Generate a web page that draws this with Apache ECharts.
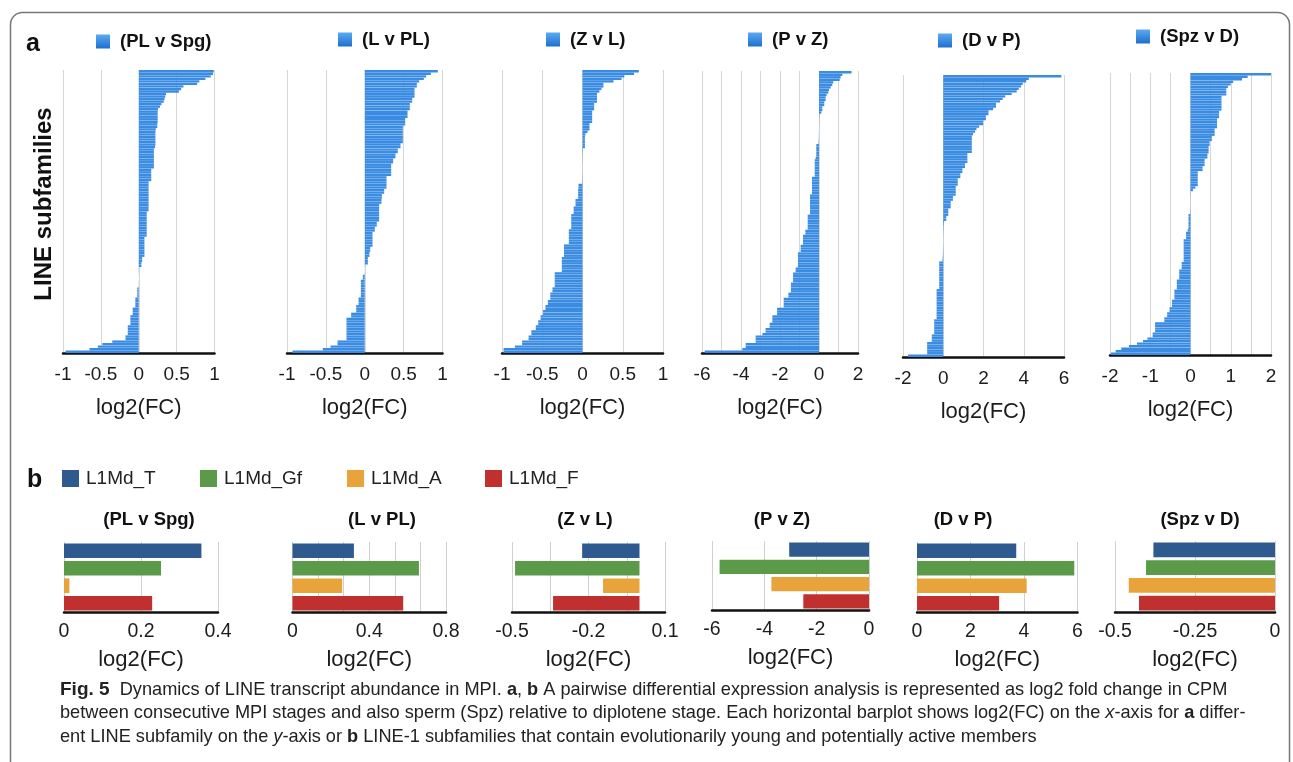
<!DOCTYPE html>
<html>
<head>
<meta charset="utf-8">
<title>Fig. 5 LINE transcript abundance</title>
<script src="https://cdn.jsdelivr.net/npm/echarts@6/dist/echarts.min.js"></script>
<style>
html, body { margin: 0; padding: 0; background: #fff; }
#main { width: 1293px; height: 762px; }
</style>
</head>
<body>
<div id="main"></div>
<script>
// stage comparisons
var comparisons = ['(PL v Spg)', '(L v PL)', '(Z v L)', '(P v Z)', '(D v P)', '(Spz v D)'];

// a: log2(FC) of each LINE subfamily, sorted from high to low
var plSpg = [
	0.99, 0.98, 0.95, 0.88, 0.80, 0.77, 0.59, 0.56, 0.53,
	0.36, 0.35, 0.34, 0.33, 0.30, 0.28,
	0.255, 0.25, 0.25, 0.25, 0.25, 0.25, 0.245, 0.245,
	0.225, 0.22, 0.22, 0.22, 0.22, 0.22, 0.22, 0.215,
	0.20, 0.20, 0.20, 0.20, 0.20, 0.20, 0.20, 0.20,
	0.165, 0.165, 0.165, 0.165, 0.165,
	0.13, 0.13, 0.13, 0.13, 0.13, 0.13, 0.13, 0.13, 0.13, 0.13, 0.13, 0.13,
	0.105, 0.105, 0.105, 0.105, 0.105, 0.105, 0.105, 0.105, 0.105, 0.105,
	0.075, 0.075, 0.075, 0.075, 0.075, 0.075, 0.075, 0.075,
	0.045, 0.045, 0.035, 0.035,
	0.004, 0.003, 0.002, 0.001, 0, -0.001, -0.002, -0.003,
	-0.02, -0.02, -0.02, -0.02,
	-0.045, -0.045, -0.045, -0.045,
	-0.08, -0.08, -0.08,
	-0.11, -0.11, -0.11, -0.11,
	-0.145, -0.145, -0.145, -0.145,
	-0.175, -0.175,
	-0.35, -0.48, -0.54, -0.65, -0.965
];
var lvPl = [
	0.94, 0.85, 0.79, 0.76, 0.70, 0.67, 0.67,
	0.64, 0.64, 0.64, 0.64, 0.61, 0.61,
	0.58, 0.58, 0.58, 0.55, 0.55, 0.55, 0.52, 0.52, 0.52,
	0.49, 0.49, 0.49, 0.49, 0.49, 0.49, 0.49,
	0.46, 0.46, 0.425, 0.425, 0.395, 0.395, 0.365, 0.365,
	0.34, 0.34, 0.34, 0.34, 0.34,
	0.28, 0.28, 0.28, 0.28, 0.28,
	0.25, 0.25, 0.22, 0.22, 0.215, 0.215,
	0.185, 0.185, 0.185, 0.185, 0.185, 0.185, 0.185,
	0.155, 0.155, 0.13, 0.13,
	0.10, 0.10, 0.10, 0.10, 0.10, 0.10,
	0.07, 0.07, 0.06, 0.06, 0.04, 0.04, 0.04,
	0.003, 0.001, -0.001, -0.003,
	-0.025, -0.025,
	-0.05, -0.05, -0.05, -0.05, -0.05, -0.05, -0.05,
	-0.08, -0.08, -0.08, -0.11, -0.11, -0.11,
	-0.175, -0.175,
	-0.235, -0.235, -0.235, -0.235, -0.235, -0.235, -0.235, -0.235, -0.235,
	-0.35, -0.35, -0.44, -0.54, -0.93
];
var zvL = [
	0.70, 0.64, 0.52, 0.485, 0.385, 0.26, 0.26, 0.235, 0.21,
	0.18, 0.18, 0.18, 0.18, 0.145, 0.145, 0.145,
	0.12, 0.12, 0.12, 0.12, 0.12,
	0.087, 0.087, 0.087, 0.062, 0.037,
	0.03, 0.03, 0.03, 0.03, 0.03,
	0.006, 0.005, 0.004, 0.003, 0.002, 0.002, 0.001, 0, -0.001, -0.002, -0.002, -0.003, -0.004, -0.005,
	-0.05, -0.05, -0.054, -0.054, -0.054, -0.054,
	-0.087, -0.087, -0.087, -0.11, -0.11, -0.11,
	-0.14, -0.14, -0.14, -0.14, -0.14, -0.14,
	-0.17, -0.17, -0.17, -0.17, -0.17, -0.17,
	-0.23, -0.23, -0.23, -0.23, -0.23,
	-0.257, -0.257, -0.257, -0.257, -0.257, -0.257,
	-0.345, -0.345, -0.345, -0.345, -0.345, -0.345,
	-0.373, -0.373, -0.40, -0.40, -0.40,
	-0.43, -0.43, -0.46, -0.46, -0.49, -0.49, -0.52, -0.52,
	-0.55, -0.55, -0.58, -0.58, -0.635, -0.635, -0.67, -0.67,
	-0.75, -0.75, -0.84, -0.98, -0.98
];
var pvZ = [
	1.67, 1.20, 1.11, 1.06, 0.73, 0.68, 0.60, 0.51, 0.48, 0.39,
	0.34, 0.34, 0.27, 0.27, 0.17, 0.17, 0.12,
	0.02, 0.015, 0.01, 0.008, 0.005, 0.002, -0.002, -0.005, -0.008, -0.01, -0.015, -0.02,
	-0.14, -0.14, -0.14, -0.14, -0.14, -0.17,
	-0.22, -0.22, -0.22, -0.22, -0.22, -0.22, -0.22,
	-0.36, -0.36, -0.36, -0.36, -0.36, -0.36, -0.36,
	-0.46, -0.46, -0.46, -0.46, -0.46, -0.46, -0.46, -0.46,
	-0.58, -0.58, -0.58, -0.58, -0.58, -0.58,
	-0.70, -0.70, -0.82, -0.82, -0.82, -0.82,
	-0.94, -0.94, -0.94,
	-1.08, -1.08, -1.08, -1.08, -1.08, -1.08,
	-1.2, -1.2, -1.33, -1.33, -1.33, -1.33,
	-1.44, -1.44, -1.44, -1.44, -1.57, -1.57,
	-1.81, -1.81, -1.81, -1.81,
	-2.15, -2.15, -2.15, -2.39, -2.39, -2.39,
	-2.53, -2.53, -2.74, -2.74, -2.9,
	-3.25, -3.25, -3.25, -3.76, -3.76, -3.93, -5.86
];
var dvP = [
	5.87, 4.25, 4.12, 3.95, 3.87, 3.75, 3.65, 3.40, 3.08, 2.95, 2.82,
	2.62, 2.62, 2.48, 2.25, 2.25, 2.12, 2.12, 1.98, 1.98,
	1.78, 1.65, 1.58, 1.48,
	1.42, 1.42, 1.42, 1.42, 1.42, 1.42, 1.42,
	1.20, 1.20, 1.20, 1.20, 1.08, 1.08, 0.95, 0.95, 0.85, 0.85,
	0.72, 0.72, 0.72, 0.62, 0.62, 0.62, 0.62,
	0.48, 0.48, 0.37, 0.37, 0.37, 0.25, 0.25, 0.25, 0.15, 0.15,
	0.04, 0.03, 0.02, 0.015, 0.01, 0.008, 0.005, 0.003,
	-0.003, -0.005, -0.008, -0.01, -0.015, -0.02, -0.03, -0.04,
	-0.2, -0.2, -0.2, -0.2, -0.2, -0.2, -0.2, -0.2, -0.2, -0.2, -0.2,
	-0.33, -0.33, -0.33, -0.33, -0.33, -0.33, -0.33, -0.33, -0.33, -0.33, -0.33, -0.33,
	-0.45, -0.45, -0.45, -0.45, -0.45, -0.45,
	-0.57, -0.57, -0.57,
	-0.80, -0.80, -0.80, -0.80, -0.80, -1.75
];
var spzD = [
	2.0, 1.42, 1.28, 1.06, 1.00, 0.93, 0.89, 0.89, 0.89,
	0.77, 0.77, 0.77, 0.77, 0.77, 0.77,
	0.71, 0.71, 0.71, 0.66, 0.66, 0.66, 0.66,
	0.60, 0.60, 0.60, 0.53, 0.53, 0.475, 0.475,
	0.45, 0.45, 0.45, 0.42, 0.42, 0.35, 0.35, 0.35, 0.30, 0.30,
	0.18, 0.18, 0.18, 0.18, 0.18, 0.18, 0.12, 0.06,
	0.008, 0.005, 0.003, 0.001, 0, -0.001, -0.003, -0.005, -0.008,
	-0.05, -0.05, -0.05, -0.05, -0.05, -0.05, -0.07,
	-0.11, -0.11, -0.11,
	-0.17, -0.17, -0.17, -0.17, -0.17, -0.17, -0.17, -0.17, -0.17,
	-0.22, -0.22, -0.22, -0.28, -0.28, -0.28, -0.28,
	-0.34, -0.34, -0.34, -0.34, -0.40, -0.40, -0.40, -0.40,
	-0.46, -0.46, -0.46, -0.52, -0.52, -0.58, -0.58, -0.65, -0.65,
	-0.88, -0.88, -0.88, -0.88, -0.94, -0.94,
	-1.07, -1.18, -1.33, -1.53, -1.72, -1.86, -1.98
];
var panelA = [plSpg, lvPl, zvL, pvZ, dvP, spzD];

// a: axis ranges and labelled ticks
var aMin = [-1, -1, -1, -6, -2, -2];
var aMax = [1, 1, 1, 2, 6, 2];
var aStep = [0.5, 0.5, 0.5, 1, 2, 0.5];
var aTicks = [
	[-1, -0.5, 0, 0.5, 1],
	[-1, -0.5, 0, 0.5, 1],
	[-1, -0.5, 0, 0.5, 1],
	[-6, -4, -2, 0, 2],
	[-2, 0, 2, 4, 6],
	[-2, -1, 0, 1, 2]
];

// b: young LINE-1 subfamilies, one value per comparison
var subfamilies = ['L1Md_T', 'L1Md_Gf', 'L1Md_A', 'L1Md_F'];
var l1mdT = [0.357, 0.32, -0.225, -3.05, 3.71, -0.38];
var l1mdGf = [0.252, 0.659, -0.488, -5.71, 5.88, -0.403];
var l1mdA = [0.014, 0.259, -0.143, -3.73, 4.10, -0.457];
var l1mdF = [0.229, 0.577, -0.339, -2.51, 3.07, -0.425];
var panelB = [l1mdT, l1mdGf, l1mdA, l1mdF];

// b: axis ranges and labelled ticks
var bMin = [0, 0, -0.5, -6, 0, -0.5];
var bMax = [0.4, 0.8, 0.1, 0, 6, 0];
var bStep = [0.2, 0.4 / 3, 0.15, 2, 2, 0.25];
var bTicks = [
	[0, 0.2, 0.4],
	[0, 0.4, 0.8],
	[-0.5, -0.2, 0.1],
	[-6, -4, -2, 0],
	[0, 2, 4, 6],
	[-0.5, -0.25, 0]
];

// layout
var FONT = '"Liberation Sans", Arial, Helvetica, sans-serif';
var BLUE = '#3a8ce2';
var B_COLORS = ['#2e5a8f', '#5b9a48', '#e8a33b', '#c0302f'];

var gridA = [
	{ left: 63, top: 70, width: 151.5, height: 283 },
	{ left: 287, top: 70, width: 155.5, height: 283 },
	{ left: 502, top: 70, width: 161, height: 283 },
	{ left: 702, top: 71, width: 156, height: 282 },
	{ left: 903, top: 75, width: 161, height: 282 },
	{ left: 1110, top: 73, width: 161, height: 282 }
];
var legendA = [[96, 32], [338, 30], [546, 30], [748, 30], [938, 31], [1136, 27]];

var gridB = [
	{ left: 64, top: 542, width: 154, height: 70 },
	{ left: 292.5, top: 542, width: 153.5, height: 70 },
	{ left: 512, top: 542, width: 153, height: 70 },
	{ left: 712, top: 541, width: 157, height: 69 },
	{ left: 917, top: 542, width: 160.5, height: 70 },
	{ left: 1115, top: 541, width: 160, height: 71 }
];
var titleBx = [149, 382, 585, 782, 963, 1200];
var legendBx = [62, 200, 347, 485];

function tickFormatter(ticks) {
	return function (v) {
		for (var k = 0; k < ticks.length; k++) {
			if (Math.abs(ticks[k] - v) < 1e-6) {
				return String(ticks[k]);
			}
		}
		return '';
	};
}

var legendIcon = new echarts.graphic.LinearGradient(0, 0, 0, 1, [
	{ offset: 0, color: '#5aaaf2' },
	{ offset: 1, color: '#1f6fcc' }
]);

var grids = [];
var xAxes = [];
var yAxes = [];
var series = [];
var legends = [];

// panel a
panelA.forEach(function (vals, i) {
	grids.push(gridA[i]);
	xAxes.push({
		type: 'value', gridIndex: i,
		min: aMin[i], max: aMax[i], interval: aStep[i],
		axisLine: { show: true, lineStyle: { color: '#111', width: 2.5 } },
		axisTick: { show: false },
		splitLine: { show: true, lineStyle: { color: '#d6d6d6', width: 1 } },
		axisLabel: { margin: 12, fontSize: 19, color: '#1c1c1c', fontFamily: FONT, formatter: tickFormatter(aTicks[i]) },
		name: 'log2(FC)', nameLocation: 'middle', nameGap: 44,
		nameTextStyle: { fontSize: 22, color: '#1c1c1c', fontFamily: FONT }
	});
	yAxes.push({ type: 'category', gridIndex: i, inverse: true, show: false });
	series.push({
		type: 'bar', name: comparisons[i], xAxisIndex: i, yAxisIndex: i,
		data: vals, barCategoryGap: '6%',
		itemStyle: { color: BLUE }
	});
	legends.push({
		left: legendA[i][0], top: legendA[i][1], padding: 0,
		icon: 'rect', itemWidth: 14, itemHeight: 14, selectedMode: false,
		data: [{ name: comparisons[i], itemStyle: { color: legendIcon } }],
		textStyle: { fontSize: 18.5, fontWeight: 'bold', color: '#111', fontFamily: FONT, padding: [0, 0, 0, 5] }
	});
});

// panel b
for (var p = 0; p < 6; p++) {
	var gi = 6 + p;
	grids.push(gridB[p]);
	xAxes.push({
		type: 'value', gridIndex: gi,
		min: bMin[p], max: bMax[p], interval: bStep[p],
		axisLine: { show: true, lineStyle: { color: '#111', width: 2.5 } },
		axisTick: { show: false },
		splitLine: { show: true, lineStyle: { color: '#d0d0d0', width: 1 } },
		axisLabel: { margin: 10, fontSize: 19.5, color: '#1c1c1c', fontFamily: FONT, formatter: tickFormatter(bTicks[p]) },
		name: 'log2(FC)', nameLocation: 'middle', nameGap: 37,
		nameTextStyle: { fontSize: 22, color: '#1c1c1c', fontFamily: FONT }
	});
	yAxes.push({ type: 'category', gridIndex: gi, inverse: true, show: false, data: subfamilies });
	subfamilies.forEach(function (name, s) {
		series.push({
			type: 'bar', name: name, xAxisIndex: gi, yAxisIndex: gi,
			stack: 'b' + p, barCategoryGap: '16%',
			data: subfamilies.map(function (c, k) { return k === s ? panelB[s][p] : '-'; }),
			itemStyle: { color: B_COLORS[s] }
		});
	});
}
subfamilies.forEach(function (name, s) {
	legends.push({
		left: legendBx[s], top: 469, padding: 0,
		icon: 'rect', itemWidth: 17, itemHeight: 17, selectedMode: false,
		data: [name],
		textStyle: { fontSize: 19, color: '#222', fontFamily: FONT, padding: [0, 0, 0, 2] }
	});
});

var graphics = [
	{
		type: 'rect', silent: true,
		shape: { x: 10.5, y: 12.5, width: 1279, height: 820, r: 12 },
		style: { fill: 'none', stroke: '#777', lineWidth: 1.5 }
	},
	{ type: 'text', x: 26, y: 44, style: { text: 'a', fontSize: 25, fontWeight: 'bold', fontFamily: FONT, fill: '#111', verticalAlign: 'middle' } },
	{ type: 'text', x: 27, y: 480, style: { text: 'b', fontSize: 25, fontWeight: 'bold', fontFamily: FONT, fill: '#111', verticalAlign: 'middle' } },
	{
		type: 'text', x: 44, y: 204, rotation: Math.PI / 2,
		style: { text: 'LINE subfamilies', fontSize: 24, fontWeight: 'bold', fontFamily: FONT, fill: '#111', align: 'center', verticalAlign: 'middle' }
	}
];
comparisons.forEach(function (c, p) {
	graphics.push({
		type: 'text', x: titleBx[p], y: 520,
		style: { text: c, fontSize: 18.5, fontWeight: 'bold', fontFamily: FONT, fill: '#111', align: 'center', verticalAlign: 'middle' }
	});
});

var capRich = {
	f: { fontSize: 19, fontWeight: 'bold', fontFamily: FONT, fill: '#222' },
	b: { fontSize: 18.2, fontWeight: 'bold', fontFamily: FONT, fill: '#222' },
	i: { fontSize: 18.2, fontStyle: 'italic', fontFamily: FONT, fill: '#222' }
};
var captionLines = [
	'{f|Fig. 5}  Dynamics of LINE transcript abundance in MPI. {b|a}, {b|b} A pairwise differential expression analysis is represented as log2 fold change in CPM',
	'between consecutive MPI stages and also sperm (Spz) relative to diplotene stage. Each horizontal barplot shows log2(FC) on the {i|x}-axis for {b|a} differ-',
	'ent LINE subfamily on the {i|y}-axis or {b|b} LINE-1 subfamilies that contain evolutionarily young and potentially active members'
];
var captionY = [690, 713, 737];
captionLines.forEach(function (t, k) {
	graphics.push({
		type: 'text', x: 60, y: captionY[k],
		style: { text: t, rich: capRich, fontSize: 18.2, fontFamily: FONT, fill: '#222', verticalAlign: 'middle' }
	});
});

var myChart = echarts.init(document.getElementById('main'));
myChart.setOption({
	animation: false,
	backgroundColor: '#fff',
	grid: grids,
	xAxis: xAxes,
	yAxis: yAxes,
	legend: legends,
	series: series,
	graphic: graphics
});
</script>
</body>
</html>
